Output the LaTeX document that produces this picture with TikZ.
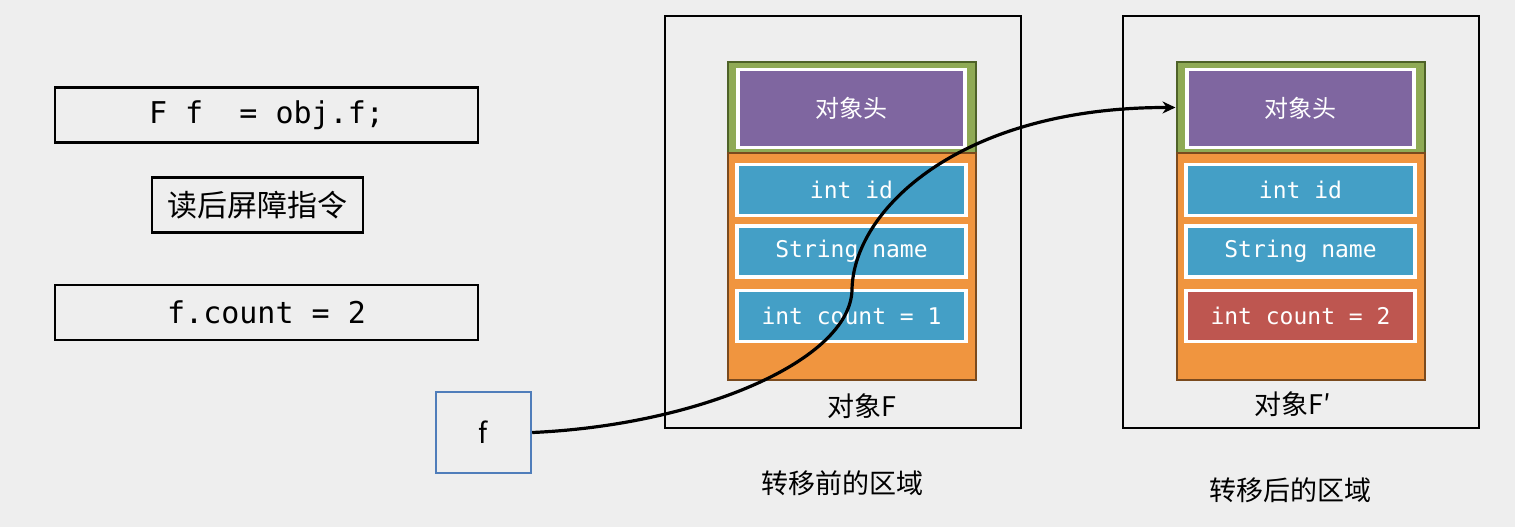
\documentclass[tikz,border=0pt]{standalone}
\usepackage{fontspec}
\setmainfont{Noto Sans CJK SC}
\setmonofont{DejaVu Sans Mono}
\usetikzlibrary{arrows.meta}

\definecolor{bggray}{HTML}{EEEEEE}
\definecolor{hdrgreen}{HTML}{8FAA55}
\definecolor{hdrgreenline}{HTML}{4E6228}
\definecolor{bodyorange}{HTML}{F0953F}
\definecolor{bodyline}{HTML}{7A4A1E}
\definecolor{hdrpurple}{HTML}{7F66A0}
\definecolor{fieldblue}{HTML}{449FC6}
\definecolor{fieldred}{HTML}{BE5650}
\definecolor{refblue}{HTML}{4F7DBA}

\begin{document}
\begin{tikzpicture}[x=0.5pt, y=-0.5pt,
    codebox/.style={rectangle, draw=black, line width=1.4pt, minimum width=211.5pt, minimum height=27.5pt, inner sep=0pt, font=\fontsize{15}{18}\selectfont\ttfamily},
    notebox/.style={rectangle, draw=black, line width=1.4pt, minimum width=105.5pt, minimum height=27.5pt, inner sep=0pt, font=\fontsize{15}{18}\selectfont},
    refbox/.style={rectangle, draw=refblue, line width=1.2pt, minimum width=47.5pt, minimum height=40.5pt, inner sep=0pt, font=\fontsize{14}{17}\selectfont},
    region/.style={rectangle, draw=black, line width=1.3pt, minimum width=178pt, minimum height=206pt, inner sep=0pt},
    hdrbar/.style={rectangle, fill=hdrgreen, draw=hdrgreenline, line width=1pt, minimum width=124pt, minimum height=45.5pt, inner sep=0pt},
    objbody/.style={rectangle, fill=bodyorange, draw=bodyline, line width=1pt, minimum width=124pt, minimum height=113.5pt, inner sep=0pt},
    hdr/.style={rectangle, fill=hdrpurple, draw=white, line width=1.6pt, minimum width=113.5pt, minimum height=39pt, inner sep=0pt, text=white, font=\fontsize{12}{14}\selectfont},
    field/.style={rectangle, fill=fieldblue, draw=white, line width=1.6pt, minimum width=114.5pt, minimum height=25.5pt, inner sep=0pt, text=white, font=\fontsize{11.5}{14}\selectfont\ttfamily},
    label/.style={inner sep=0pt, font=\fontsize{13.5}{16}\selectfont},
    link/.style={-{Stealth[length=6.5pt, width=6pt]}, line width=1.6pt, black}
]

% background
\fill[bggray] (0,0) rectangle (1515,527);
\useasboundingbox (0,0) rectangle (1515,527);

% code on the left
\node[codebox] (load) at (266.5,115) {F~f~~=~obj.f;};
\node[notebox] (barrier) at (257.5,205) {读后屏障指令};
\node[codebox] (store) at (266.5,312.5) {f.count~=~2};

% the reference f
\node[refbox] (fref) at (483.5,432.5) {f};

% region before the move
\node[region] (regionA) at (843,222) {};
\node[hdrbar] (hdrbarA) at (851.5,107.5) {};
\node[objbody] (bodyA) at (851.5,266.5) {};
\node[hdr] (hdrA) at (851.5,108.5) {对象头};
\node[field] (idA) at (851.5,190) {int~id};
\node[field] (nameA) at (851.5,251.5) {String~name};
\node[field] (countA) at (851.5,316) {int~count~=~1};
\node[label] (objA) at (862,406) {对象F};
\node[label] (beforeA) at (842,483) {转移前的区域};

% region after the move
\node[region] (regionB) at (1301,222) {};
\node[hdrbar] (hdrbarB) at (1300.5,107.5) {};
\node[objbody] (bodyB) at (1300.5,266.5) {};
\node[hdr] (hdrB) at (1300.5,108.5) {对象头};
\node[field] (idB) at (1300.5,190) {int~id};
\node[field] (nameB) at (1300.5,251.5) {String~name};
\node[field, fill=fieldred] (countB) at (1300.5,316) {int~count~=~2};
\node[label] (objB) at (1293,404) {对象F′};
\node[label] (afterB) at (1290,490) {转移后的区域};

% pointer from f to the moved object
\coordinate (bend) at (852,290);
\draw[link] (fref.east) .. controls (700,425) and (850,360) .. (bend)
    .. controls (853,210) and (960,107) .. (hdrbarB.west);

\end{tikzpicture}
\end{document}
